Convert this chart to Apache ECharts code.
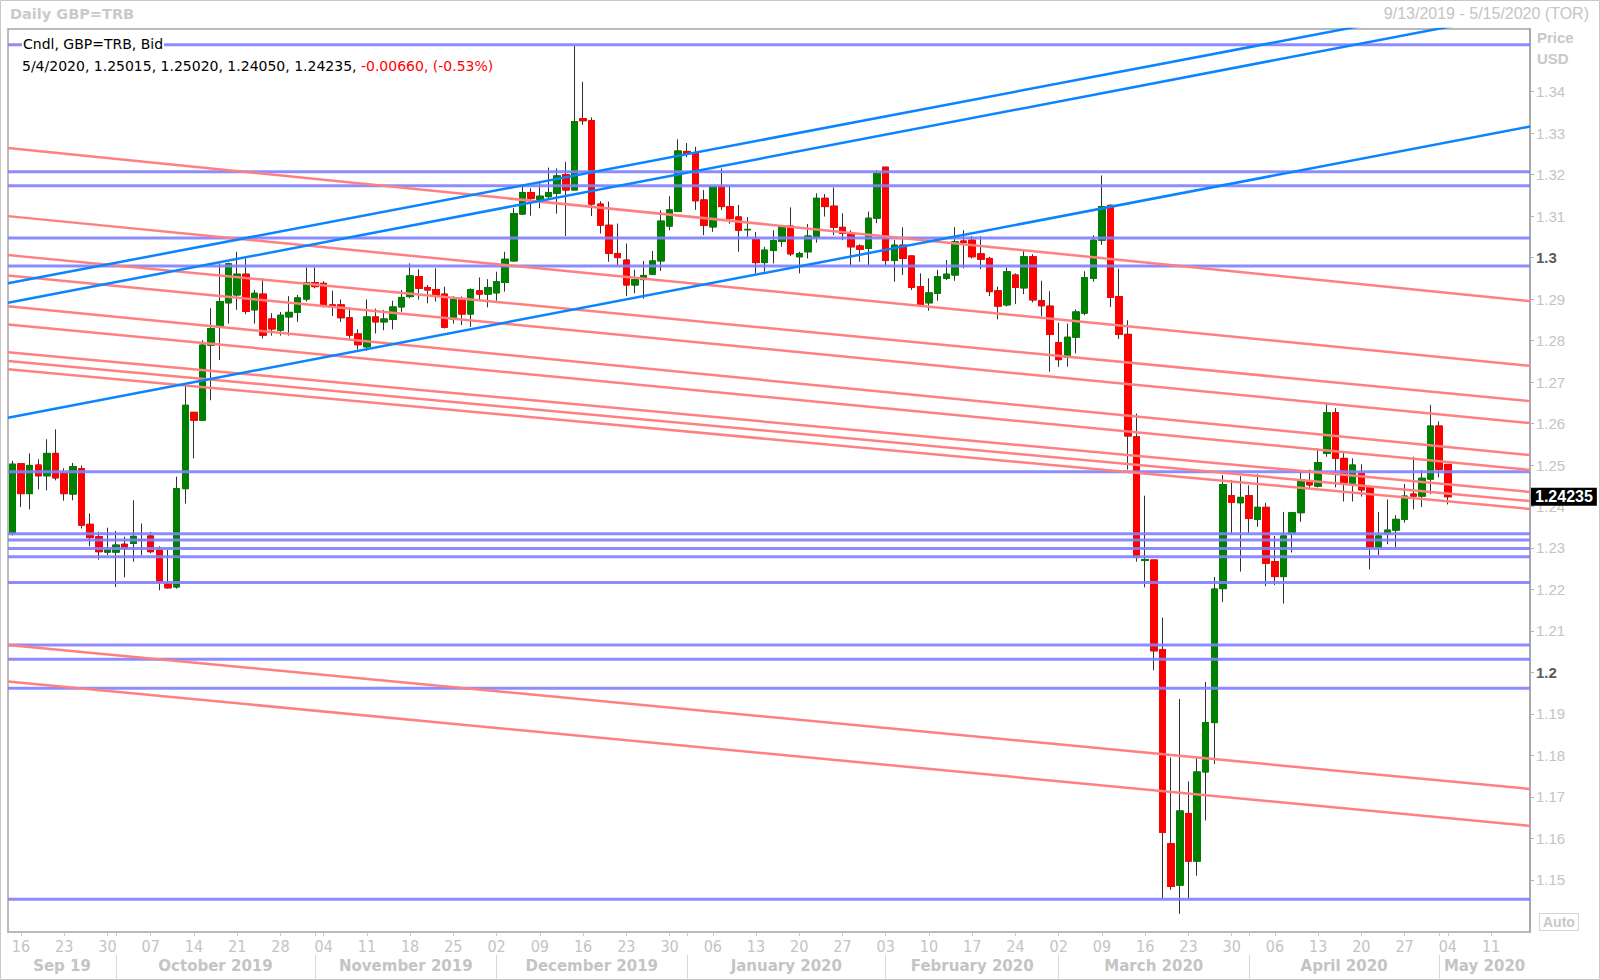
<!DOCTYPE html>
<html><head><meta charset="utf-8">
<script src="https://cdn.jsdelivr.net/npm/echarts@6/dist/echarts.min.js"></script>
<style>html,body{margin:0;padding:0;background:#fff}#c{width:1600px;height:980px}</style>
</head><body><div id="c"></div><script>
// ---- data ----
const startDate = '2019-09-13', endDate = '2020-05-15';
const open = [
1.2336,1.2503,1.2431,1.2500,1.2474,1.2528,1.2480,1.2430,1.2491,1.2357,
1.2327,1.2290,1.2290,1.2309,1.2311,1.2320,1.2329,1.2295,1.2214,1.2206,
1.2443,1.2627,1.2608,1.2789,1.2833,1.2891,1.2910,1.2960,1.2874,1.2912,
1.2852,1.2825,1.2857,1.2868,1.2900,1.2940,1.2938,1.2886,1.2886,1.2855,
1.2816,1.2785,1.2857,1.2845,1.2851,1.2881,1.2906,1.2954,1.2928,1.2923,
1.2912,1.2851,1.2898,1.2864,1.2920,1.2912,1.2915,1.2940,1.2992,1.3105,
1.3157,1.3140,1.3147,1.3155,1.3200,1.3163,1.3335,1.3330,1.3129,1.3078,
1.3010,1.2994,1.2934,1.2947,1.2960,1.2992,1.3076,1.3111,1.3256,1.3253,
1.3139,1.3074,1.3171,1.3123,1.3098,1.3067,1.3044,1.2988,1.3017,1.3039,
1.3076,1.3002,1.3014,1.3049,1.3143,1.3124,1.3073,1.3058,1.3028,1.3022,
1.3095,1.3218,1.2993,1.3030,1.3004,1.2930,1.2891,1.2914,1.2950,1.2958,
1.3040,1.3042,1.3009,1.2998,1.2920,1.2886,1.2958,1.2927,1.3002,1.2896,
1.2883,1.2795,1.2760,1.2808,1.2866,1.2950,1.3042,1.3126,1.2906,1.2815,
1.2568,1.2270,1.2271,1.2055,1.1587,1.1487,1.1660,1.1545,1.1760,1.1879,
1.2202,1.2426,1.2409,1.2426,1.2369,1.2398,1.2267,1.2231,1.2335,1.2385,
1.2460,1.2449,1.2528,1.2626,1.2516,1.2456,1.2480,1.2446,1.2301,1.2334,
1.2343,1.2369,1.2430,1.2425,1.2466,1.2594,1.25015];
const high = [
1.2510,1.2505,1.2528,1.2514,1.2562,1.2586,1.2492,1.2505,1.2499,1.2383,
1.2339,1.2349,1.2341,1.2327,1.2415,1.2359,1.2339,1.2304,1.2295,1.2472,
1.2697,1.2627,1.2801,1.2878,1.2986,1.2988,1.3014,1.2998,1.2922,1.2950,
1.2866,1.2869,1.2907,1.2910,1.2976,1.2976,1.2943,1.2920,1.2899,1.2880,
1.2827,1.2899,1.2877,1.2874,1.2896,1.2922,1.2986,1.2972,1.2934,1.2974,
1.2930,1.2907,1.2906,1.2926,1.2952,1.2948,1.2966,1.3014,1.3119,1.3171,
1.3167,1.3183,1.3217,1.3215,1.3231,1.3510,1.3424,1.3338,1.3136,1.3135,
1.3082,1.3034,1.2971,1.2992,1.3016,1.3114,1.3148,1.3285,1.3276,1.3267,
1.3163,1.3171,1.3215,1.3171,1.3127,1.3098,1.3062,1.3026,1.3066,1.3076,
1.3121,1.3014,1.3081,1.3155,1.3153,1.3169,1.3107,1.3066,1.3032,1.3111,
1.3211,1.3218,1.3042,1.3073,1.3004,1.2962,1.2950,1.2970,1.2994,1.3073,
1.3066,1.3052,1.3052,1.3002,1.2930,1.2976,1.2962,1.3019,1.3008,1.2944,
1.2919,1.2843,1.2841,1.2875,1.2967,1.3054,1.3198,1.3128,1.2973,1.2849,
1.2624,1.2426,1.2271,1.2132,1.1795,1.1936,1.1737,1.1798,1.1977,1.2230,
1.2476,1.2464,1.2473,1.2451,1.2478,1.2409,1.2329,1.2387,1.2387,1.2484,
1.2489,1.2540,1.2650,1.2637,1.2530,1.2516,1.2502,1.2449,1.2387,1.2417,
1.2379,1.2454,1.2520,1.2488,1.2645,1.2605,1.25020];
const low = [
1.2330,1.2399,1.2393,1.2441,1.2439,1.2463,1.2414,1.2415,1.2347,1.2304,
1.2272,1.2283,1.2206,1.2229,1.2267,1.2283,1.2287,1.2198,1.2202,1.2202,
1.2407,1.2516,1.2608,1.2656,1.2753,1.2841,1.2874,1.2864,1.2841,1.2805,
1.2812,1.2812,1.2812,1.2845,1.2894,1.2926,1.2880,1.2859,1.2845,1.2805,
1.2778,1.2775,1.2817,1.2825,1.2827,1.2869,1.2902,1.2899,1.2890,1.2894,
1.2829,1.2841,1.2837,1.2833,1.2899,1.2880,1.2896,1.2918,1.2990,1.3103,
1.3101,1.3119,1.3139,1.3106,1.3052,1.3163,1.3320,1.3100,1.3058,1.2990,
1.2982,1.2907,1.2914,1.2901,1.2958,1.2968,1.3066,1.3111,1.3242,1.3115,
1.3054,1.3062,1.3115,1.3082,1.3014,1.3050,1.2962,1.2966,1.2986,1.3026,
1.3004,1.2962,1.2998,1.3036,1.3099,1.3054,1.3042,1.2982,1.2990,1.2982,
1.3083,1.2982,1.2942,1.2958,1.2922,1.2886,1.2872,1.2896,1.2946,1.2944,
1.2974,1.2998,1.2972,1.2907,1.2851,1.2882,1.2888,1.2912,1.2892,1.2858,
1.2725,1.2737,1.2737,1.2769,1.2861,1.2942,1.3031,1.2881,1.2804,1.2489,
1.2267,1.2205,1.2005,1.1453,1.1476,1.1418,1.1453,1.1510,1.1643,1.1779,
1.2170,1.2335,1.2243,1.2335,1.2351,1.2208,1.2211,1.2166,1.2289,1.2363,
1.2444,1.2446,1.2520,1.2446,1.2412,1.2412,1.2424,1.2248,1.2283,1.2309,
1.2301,1.2361,1.2393,1.2399,1.2430,1.2470,1.24050];
const close = [
1.2502,1.2431,1.2499,1.2474,1.2528,1.2469,1.2431,1.2496,1.2355,1.2325,
1.2291,1.2295,1.2307,1.2299,1.2328,1.2318,1.2291,1.2218,1.2204,1.2443,
1.2644,1.2608,1.2789,1.2829,1.2894,1.2985,1.2960,1.2870,1.2914,1.2813,
1.2828,1.2861,1.2868,1.2903,1.2940,1.2930,1.2883,1.2882,1.2855,1.2813,
1.2790,1.2857,1.2845,1.2852,1.2881,1.2904,1.2956,1.2926,1.2922,1.2907,
1.2832,1.2899,1.2864,1.2923,1.2912,1.2928,1.2942,1.2996,1.3106,1.3157,
1.3143,1.3148,1.3157,1.3197,1.3163,1.3328,1.3330,1.3129,1.3078,1.3010,
1.3000,1.2934,1.2947,1.2957,1.2992,1.3088,1.3115,1.3257,1.3251,1.3137,
1.3078,1.3171,1.3123,1.3094,1.3066,1.3068,1.2988,1.3018,1.3041,1.3076,
1.3009,1.3010,1.3052,1.3143,1.3123,1.3073,1.3058,1.3026,1.3020,1.3095,
1.3203,1.2993,1.3030,1.2998,1.2928,1.2886,1.2915,1.2954,1.2960,1.3038,
1.3036,1.3002,1.2996,1.2918,1.2883,1.2966,1.2928,1.3002,1.2898,1.2884,
1.2815,1.2754,1.2808,1.2869,1.2952,1.3042,1.3123,1.2904,1.2815,1.2570,
1.2279,1.2272,1.2052,1.1614,1.1484,1.1666,1.1545,1.1760,1.1879,1.2201,
1.2453,1.2410,1.2422,1.2371,1.2398,1.2263,1.2231,1.2329,1.2385,1.2465,
1.2452,1.2506,1.2626,1.2516,1.2457,1.2500,1.2440,1.2301,1.2329,1.2343,
1.2369,1.2425,1.2425,1.2468,1.2594,1.24895,1.24235];
const yTicks = [1.15,1.16,1.17,1.18,1.19,1.2,1.21,1.22,1.23,1.24,1.25,1.26,1.27,1.28,1.29,1.3,1.31,1.32,1.33,1.34];
const monthLabels = ['Sep 19','October 2019','November 2019','December 2019','January 2020','February 2020','March 2020','April 2020','May 2020'];
const hLevels = [1.3513,1.3207,1.3173,1.3047,1.2980,1.2484,1.2334,1.2319,1.2299,1.2279,1.2217,1.2066,1.2032,1.1962,1.1453];
// [startIndex, startValue, endIndex, endValue]
const blueLines = [
  [-0.5,1.2938,175.5,1.3636],
  [-0.5,1.2891,175.5,1.3594],
  [-0.5,1.2614,175.5,1.3316]];
const redLines = [
  [-0.5,1.3264,175.5,1.2895],
  [-0.5,1.3100,175.5,1.2739],
  [-0.5,1.3006,175.5,1.2654],
  [-0.5,1.2957,175.5,1.2601],
  [-0.5,1.2883,175.5,1.2524],
  [-0.5,1.2839,175.5,1.2488],
  [-0.5,1.2772,175.5,1.2435],
  [-0.5,1.2751,175.5,1.2413],
  [-0.5,1.2731,175.5,1.2394],
  [-0.5,1.2066,175.5,1.1719],
  [-0.5,1.1978,175.5,1.1630]];

// ---- build calendar (weekdays) ----
const cats = [];
for (let d = new Date(startDate+'T00:00:00Z'); d <= new Date(endDate+'T00:00:00Z'); d.setUTCDate(d.getUTCDate()+1)) {
  const w = d.getUTCDay(); if (w===0||w===6) continue;
  cats.push(d.toISOString().slice(0,10));
}
const N = cats.length;
const monthStarts = [];
for (let i=1;i<N;i++) if (cats[i].slice(5,7)!==cats[i-1].slice(5,7)) monthStarts.push(i);
const monthCenters = [];
for (let k=0;k<=monthStarts.length;k++){
  const a = k===0 ? -0.5 : monthStarts[k-1];
  const b = k===monthStarts.length ? N-0.5 : monthStarts[k];
  monthCenters.push((a+b)/2);
}
const isMon = (i, v) => new Date(v+'T00:00:00Z').getUTCDay()===1;
const mdy = s => { const p=s.split('-'); return (+p[1])+'/'+(+p[2])+'/'+p[0]; };

const n = close.length;
const wickData = [], bodyData = [];
for (let i=0;i<n;i++){
  wickData.push([open[i], close[i], low[i], high[i]]);
  bodyData.push([open[i], close[i], Math.min(open[i],close[i]), Math.max(open[i],close[i])]);
}
const lastClose = close[n-1];
const chg = close[n-1]-close[n-2];
const legendVals = mdy(cats[n-1])+', '+open[n-1].toFixed(5)+', '+high[n-1].toFixed(5)+', '+low[n-1].toFixed(5)+', '+close[n-1].toFixed(5)+', ';
const legendChg = chg.toFixed(5)+', ('+(chg/close[n-2]*100).toFixed(2)+'%)';

const yMin = 1.13742, yMax = 1.35511;
const F = '"Liberation Sans", Arial, sans-serif';
const D = '"DejaVu Sans", Verdana, sans-serif';

const series = [];
series.push({type:'candlestick', xAxisIndex:0, yAxisIndex:0, data:wickData, barWidth:7, silent:true, z:2,
  itemStyle:{color:'rgba(0,0,0,0)', color0:'rgba(0,0,0,0)', borderColor:'#303030', borderColor0:'#303030', borderColorDoji:'#303030', borderWidth:1}});
series.push({type:'candlestick', xAxisIndex:0, yAxisIndex:0, data:bodyData, barWidth:7, silent:true, z:3,
  itemStyle:{color:'#008000', color0:'#ff0000', borderColor:'#008000', borderColor0:'#ff0000', borderColorDoji:'#008000', borderWidth:1}});
hLevels.forEach(v => series.push({type:'line', xAxisIndex:1, yAxisIndex:0, data:[[-0.5,v],[N-0.5,v]], symbol:'none', silent:true, z:5, clip:true,
  lineStyle:{color:'#8080ff', width:3, opacity:0.9}}));
redLines.forEach(l => series.push({type:'line', xAxisIndex:1, yAxisIndex:0, data:[[l[0],l[1]],[l[2],l[3]]], symbol:'none', silent:true, z:6, clip:true,
  lineStyle:{color:'#ff8080', width:2.5}}));
blueLines.forEach(l => series.push({type:'line', xAxisIndex:1, yAxisIndex:0, data:[[l[0],l[1]],[l[2],l[3]]], symbol:'none', silent:true, z:7, clip:true,
  lineStyle:{color:'#0a84ff', width:2.5}}));

const option = {
  animation:false,
  backgroundColor:'#ffffff',
  textStyle:{fontFamily:F},
  grid:{left:8, right:70, top:29, bottom:48, show:true, borderColor:'#a4a4a4', borderWidth:1.5, backgroundColor:'rgba(0,0,0,0)'},
  xAxis:[
    {type:'category', data:cats, boundaryGap:true, position:'bottom',
     axisLine:{show:false, onZero:false},
     axisTick:{show:true, interval:isMon, alignWithLabel:true, length:4, lineStyle:{color:'#c8c8c8'}},
     axisLabel:{interval:isMon, formatter:v=>v.slice(8), color:'#c4c4c4', fontFamily:'"Liberation Sans Narrow","DejaVu Sans Condensed",sans-serif', fontSize:16, margin:6},
     splitLine:{show:false}},
    {type:'value', min:-0.5, max:N-0.5, position:'bottom',
     axisLine:{show:false, onZero:false},
     axisTick:{show:true, customValues:monthStarts, length:4, lineStyle:{color:'#c8c8c8'}},
     axisLabel:{show:false}, splitLine:{show:false}},
    {type:'value', min:-0.5, max:N-0.5, position:'bottom', offset:23,
     axisLine:{show:false, onZero:false},
     axisTick:{show:true, customValues:monthStarts, length:24, lineStyle:{color:'#d8d8d8'}},
     axisLabel:{customValues:monthCenters, formatter:v=>monthLabels[monthCenters.findIndex(c=>Math.abs(c-v)<1e-6)] || '',
       color:'#c4c4c4', fontFamily:D, fontWeight:'bold', fontSize:15, margin:3},
     splitLine:{show:false}}
  ],
  yAxis:[
    {type:'value', min:yMin, max:yMax, position:'right',
     axisLine:{show:true, onZero:false, lineStyle:{color:'#a4a4a4', width:1.5}},
     axisTick:{show:true, customValues:yTicks, length:4, lineStyle:{color:'#b4b4b4'}},
     axisLabel:{customValues:yTicks, margin:6, color:'#c4c4c4', fontSize:15, fontFamily:F,
       formatter:v=>{const s=String(parseFloat(v.toFixed(2))); return (s==='1.2'||s==='1.3')?'{b|'+s+'}':s;},
       rich:{b:{fontWeight:'bold', color:'#5a5a5a', fontSize:15, fontFamily:F}}},
     splitLine:{show:false}},
    {type:'value', min:yMin, max:yMax, position:'right', z:10,
     axisLine:{show:false, onZero:false}, axisTick:{show:false},
     axisLabel:{customValues:[lastClose], margin:1, formatter:v=>v.toFixed(5), color:'#ffffff', backgroundColor:'#000000',
       fontWeight:'bold', fontSize:16, fontFamily:F, padding:[1,4,1,4]},
     splitLine:{show:false}}
  ],
  graphic:[
    {type:'rect', silent:true, z:100, shape:{x:0.5,y:0.5,width:1599,height:979}, style:{fill:'none', stroke:'#c8c8c8', lineWidth:1}},
    {type:'text', z:100, left:10, top:6, style:{text:'Daily GBP=TRB', font:'bold 14.5px '+D, fill:'#cacaca'}},
    {type:'text', z:100, right:11, top:5, style:{text:mdy(startDate)+' - '+mdy(endDate)+' (TOR)', font:'16px '+F, fill:'#c4c4c4'}},
    {type:'text', z:100, left:22, top:37, style:{text:'Cndl, GBP=TRB, Bid', font:'14px '+D, fill:'#000', backgroundColor:'#fff', padding:[0,1]}},
    {type:'text', z:100, left:22, top:59, style:{text:'{k|'+legendVals+'}{r|'+legendChg+'}', font:'14px '+D, fill:'#000',
       rich:{k:{fill:'#000', font:'14px '+D}, r:{fill:'#ff0000', font:'14px '+D}}}},
    {type:'text', z:100, left:1537, top:30, style:{text:'Price', font:'bold 15px '+F, fill:'#c8c8c8'}},
    {type:'text', z:100, left:1537, top:51, style:{text:'USD', font:'bold 15px '+F, fill:'#c8c8c8'}},
    {type:'text', z:100, left:1539, top:913, style:{text:'Auto', font:'bold 14px '+F, fill:'#c8c8c8', backgroundColor:'#fff', borderColor:'#d4d4d4', borderWidth:1, padding:[1,3]}}
  ],
  series: series
};
const chart = echarts.init(document.getElementById('c'), null, {renderer:'svg'});
chart.setOption(option);
</script></body></html>
